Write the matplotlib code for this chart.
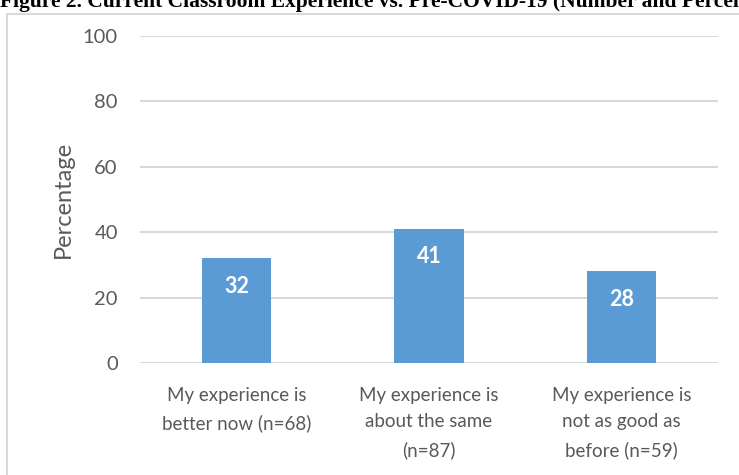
import numpy as np
import matplotlib
matplotlib.use('Agg')
import matplotlib.pyplot as plt
from matplotlib.patches import Rectangle

categories = ['My experience is\nbetter now (n=68)',
              'My experience is\nabout the same\n(n=87)',
              'My experience is\nnot as good as\nbefore (n=59)']
values = [32, 41, 28]
yticks = [0, 20, 40, 60, 80, 100]
title = 'Figure 2. Current Classroom Experience vs. Pre-COVID-19 (Number and Percent)'

plt.rcParams['font.family'] = ['Lato', 'DejaVu Sans']

fig = plt.figure(figsize=(7.39, 4.75), dpi=100)
ax = fig.add_axes([140/739, 1-363/475, 578/739, 327/475])

x = np.arange(len(values))
bars = ax.bar(x, values, width=0.36, color='#5b9bd5', zorder=3)

for b, v in zip(bars, values):
    ax.annotate(str(v), (b.get_x() + b.get_width()/2, v), xytext=(0, -20),
                textcoords='offset points', ha='center', va='center',
                color='white', fontsize=15.5, fontweight='bold', zorder=4)

ax.set_xlim(-0.5, 2.5)
ax.set_ylim(0, 100)
ax.set_yticks(yticks)
ax.yaxis.grid(True, color='#d9d9d9', linewidth=1.5, zorder=0)
ax.set_axisbelow(True)
for s in ax.spines.values():
    s.set_visible(False)
ax.tick_params(axis='both', length=0, colors='#595959')
ax.tick_params(axis='y', pad=16, labelsize=14.5)
ax.tick_params(axis='x', pad=17, labelsize=13.5)
ax.set_xticks(x)
ax.set_xticklabels(categories, linespacing=1.7)
ax.set_ylabel('Percentage', fontsize=17, color='#595959', labelpad=6)

# chart area border (only left and top are in view)
fig.patches.append(Rectangle((7/739, -0.1), 1.1, 1 - 14/475 + 0.1,
                             transform=fig.transFigure, fill=False,
                             edgecolor='#d9d9d9', linewidth=1.5))

fig.text(0, 1 - 7/475, title, fontsize=15.5, fontweight='bold',
         family='Liberation Serif', ha='left', va='baseline')

fig.savefig('out.png', dpi=100)
